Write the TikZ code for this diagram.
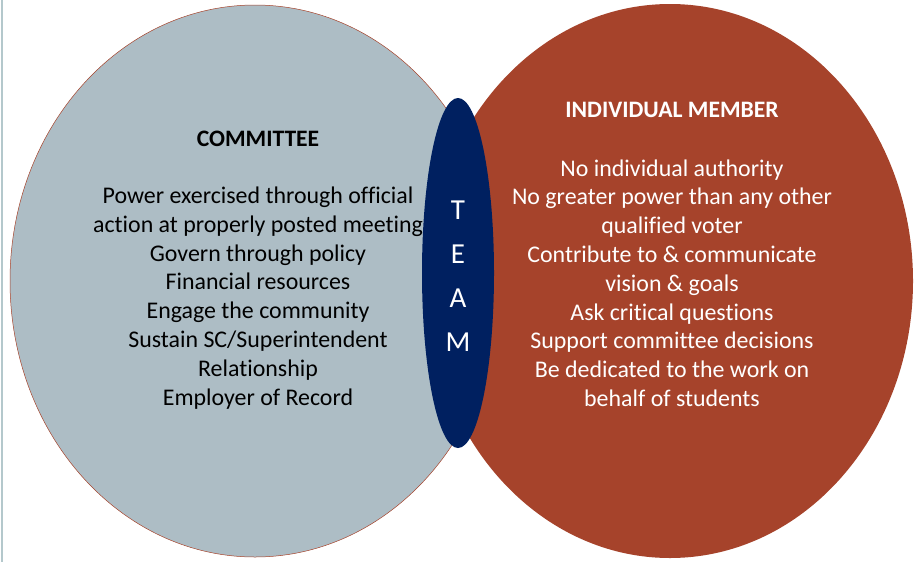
\documentclass[tikz,border=0pt]{standalone}
\usepackage{fontspec}
\setmainfont{Carlito}[RawFeature={-liga;-clig;-dlig;-calt}]
\usetikzlibrary{shapes.geometric}
\definecolor{slate}{RGB}{173,189,197}
\definecolor{rust}{RGB}{166,67,43}
\definecolor{navyteam}{RGB}{0,32,96}
\definecolor{edgeline}{RGB}{180,200,204}
\tikzset{
  body/.style={align=center,font=\fontsize{23.9}{28.8}\selectfont},
  heading/.style={font=\fontsize{23.6}{28}\selectfont\bfseries},
  letter/.style={text=white,font=\fontsize{29}{34}\selectfont}
}
\begin{document}
\begin{tikzpicture}[x=1pt,y=-1pt]
  \useasboundingbox (0,0) rectangle (915,562);
  \draw[edgeline, line width=2pt] (2,0) -- (2,562);

  % the two circles
  \node[ellipse, draw=rust, line width=0.5pt, fill=slate, inner sep=0pt,
        minimum width=490pt, minimum height=552pt] (committee) at (255,281) {};
  \node[ellipse, fill=rust, inner sep=0pt,
        minimum width=486pt, minimum height=554pt] (member) at (670,281) {};

  \node[heading] (committeetitle) at (258,139) {COMMITTEE};
  \node[body] (committeetext) at (258,298) {Power exercised through official\\
    action at properly posted meeting\\ Govern through policy\\
    Financial resources\\ Engage the community\\
    Sustain SC/Superintendent\\ Relationship\\ Employer of Record};

  \node[heading, text=white] (membertitle) at (672,110) {INDIVIDUAL MEMBER};
  \node[body, text=white] (membertext) at (672,283) {No individual authority\\
    No greater power than any other\\ qualified voter\\
    Contribute to \& communicate\\ vision \& goals\\
    Ask critical questions\\ Support committee decisions\\
    Be dedicated to the work on\\ behalf of students};

  % the overlap
  \node[ellipse, fill=navyteam, inner sep=0pt,
        minimum width=72pt, minimum height=350pt] (team) at (458,273) {};
  \foreach \l [count=\i] in {T,E,A,M}{
    \node[letter] (team\i) at (458,166+44*\i) {\l};
  }
\end{tikzpicture}
\end{document}
